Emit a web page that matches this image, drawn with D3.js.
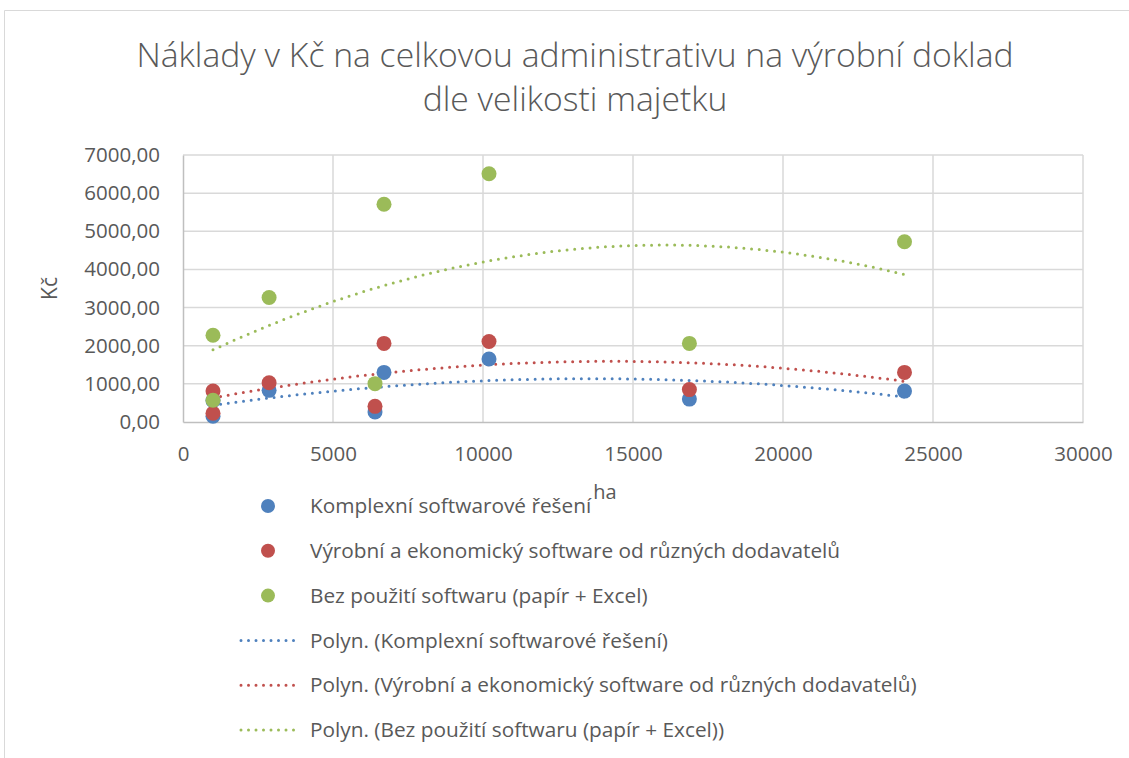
<!DOCTYPE html>
<html>
<head>
<meta charset="utf-8">
<script src="https://cdn.jsdelivr.net/npm/d3@7"></script>
<style>
  body { margin: 0; background: #fff; }
  svg { font-family: "Open Sans", sans-serif; }
</style>
</head>
<body>
<svg id="chart"></svg>
<script>
// values
const seriesNames = [
    'Komplexní softwarové řešení',
    'Výrobní a ekonomický software od různých dodavatelů',
    'Bez použití softwaru (papír + Excel)'
];
const colors = ['#4f81bd', '#c0504d', '#9bbb59'];

const haValues = [1000, 1000, 2870, 6400, 6700, 10200, 16880, 24050];
const komplexni = [150, 560, 830, 265, 1300, 1650, 600, 810];
const vyrobni = [230, 810, 1030, 410, 2060, 2110, 850, 1300];
const bezSw = [570, 2275, 3265, 1005, 5710, 6510, 2060, 4725];

const xTicks = [0, 5000, 10000, 15000, 20000, 25000, 30000];
const yTicks = [0, 1000, 2000, 3000, 4000, 5000, 6000, 7000];

const W = 1129, H = 758;
const margin = {top: 155, right: 46, bottom: 336, left: 183};
const innerW = W - margin.left - margin.right;
const innerH = H - margin.top - margin.bottom;

const svg = d3.select('#chart').attr('width', W).attr('height', H);

// chart area border
svg.append('path')
    .attr('d', `M4.5,${H} V10.5 H${W}`)
    .attr('fill', 'none')
    .attr('stroke', '#d9d9d9')
    .attr('stroke-width', 1);

const titleLines = ['Náklady v Kč na celkovou administrativu na výrobní doklad', 'dle velikosti majetku'];
svg.append('text')
    .attr('x', 575)
    .attr('y', 67)
    .attr('text-anchor', 'middle')
    .style('font-size', '33.7px')
    .style('font-weight', 300)
    .attr('fill', '#595959')
    .selectAll('tspan')
    .data(titleLines)
    .join('tspan')
    .attr('x', 575)
    .attr('dy', (d, i) => i == 0 ? 0 : 44)
    .text(d => d);

const chart = svg.append('g')
    .attr('transform', `translate(${margin.left}, ${margin.top})`);

const xscale = d3.scaleLinear().domain([0, 30000]).range([0, innerW]);
const yscale = d3.scaleLinear().domain([0, 7000]).range([innerH, 0]);

const fmt = d => d3.format('.2f')(d).replace('.', ',');

// grid
chart.append('g')
    .selectAll('line')
    .data(yTicks.slice(1))
    .join('line')
    .attr('x1', 0).attr('x2', innerW)
    .attr('y1', d => yscale(d)).attr('y2', d => yscale(d))
    .attr('stroke', '#d9d9d9').attr('stroke-width', 1.5);
chart.append('g')
    .selectAll('line')
    .data(xTicks.slice(1))
    .join('line')
    .attr('y1', 0).attr('y2', innerH)
    .attr('x1', d => xscale(d)).attr('x2', d => xscale(d))
    .attr('stroke', '#d9d9d9').attr('stroke-width', 1.5);

const xaxis = d3.axisBottom(xscale).tickValues(xTicks).tickSize(0).tickPadding(24).tickFormat(d3.format('d'));
const yaxis = d3.axisLeft(yscale).tickValues(yTicks).tickSize(0).tickPadding(23).tickFormat(fmt);

const xg = chart.append('g').attr('transform', `translate(0, ${innerH})`).call(xaxis);
const yg = chart.append('g').call(yaxis);
[xg, yg].forEach(g => {
    g.select('.domain').attr('stroke', '#bfbfbf').attr('stroke-width', 1.5);
    g.selectAll('text').style('font-size', '20.5px').attr('fill', '#595959').style('font-family', '"Open Sans", sans-serif');
});

svg.append('text')
    .attr('x', 605).attr('y', 499)
    .attr('text-anchor', 'middle')
    .style('font-size', '20px').attr('fill', '#595959')
    .text('ha');
svg.append('text')
    .attr('transform', `translate(57, ${margin.top + innerH / 2}) rotate(-90)`)
    .attr('text-anchor', 'middle')
    .style('font-size', '21px').attr('fill', '#595959')
    .text('Kč');

const allSeries = [komplexni, vyrobni, bezSw];

// 2nd order least squares trend, like the spreadsheet "Polyn." trendline
function polyFit(xs, ys) {
    const S = k => d3.sum(xs, x => Math.pow(x, k));
    const T = k => d3.sum(xs, (x, i) => Math.pow(x, k) * ys[i]);
    const A = [[S(0), S(1), S(2)], [S(1), S(2), S(3)], [S(2), S(3), S(4)]];
    const b = [T(0), T(1), T(2)];
    // gaussian elimination
    for (let i = 0; i < 3; i++) {
        for (let j = i + 1; j < 3; j++) {
            const f = A[j][i] / A[i][i];
            for (let k = i; k < 3; k++) A[j][k] -= f * A[i][k];
            b[j] -= f * b[i];
        }
    }
    const c = [0, 0, 0];
    for (let i = 2; i >= 0; i--) {
        let s = b[i];
        for (let k = i + 1; k < 3; k++) s -= A[i][k] * c[k];
        c[i] = s / A[i][i];
    }
    return x => c[0] + c[1] * x + c[2] * x * x;
}

const line = d3.line().x(d => xscale(d[0])).y(d => yscale(d[1]));
const xmin = d3.min(haValues), xmax = d3.max(haValues);

allSeries.forEach((ys, si) => {
    const f = polyFit(haValues, ys);
    const pts = d3.range(0, 101).map(i => {
        const x = xmin + (xmax - xmin) * i / 100;
        return [x, f(x)];
    });
    chart.append('path')
        .attr('d', line(pts))
        .attr('fill', 'none')
        .attr('stroke', colors[si])
        .attr('stroke-width', 3)
        .attr('stroke-linecap', 'round')
        .attr('stroke-dasharray', '0,7.7');
});

allSeries.forEach((ys, si) => {
    chart.append('g')
        .selectAll('circle')
        .data(ys)
        .join('circle')
        .attr('cx', (d, i) => xscale(haValues[i]))
        .attr('cy', d => yscale(d))
        .attr('r', 7.5)
        .attr('fill', colors[si]);
});

// legend
const legendNames = seriesNames.concat(seriesNames.map(n => `Polyn. (${n})`));
const legend = svg.append('g');
const rows = legend.selectAll('g')
    .data(legendNames)
    .join('g')
    .attr('transform', (d, i) => `translate(0, ${506 + i * 44.8})`);
rows.each(function(d, i) {
    const g = d3.select(this);
    const c = colors[i % 3];
    if (i < 3) {
        g.append('circle').attr('cx', 268).attr('cy', 0).attr('r', 7).attr('fill', c);
    } else {
        g.append('line')
            .attr('x1', 241).attr('x2', 301)
            .attr('stroke', c).attr('stroke-width', 3)
            .attr('stroke-linecap', 'round').attr('stroke-dasharray', '0,7.5');
    }
    g.append('text')
        .attr('x', 310).attr('y', 0).attr('dy', '0.35em')
        .style('font-size', '20.8px').attr('fill', '#595959')
        .text(d);
});
</script>
</body>
</html>
